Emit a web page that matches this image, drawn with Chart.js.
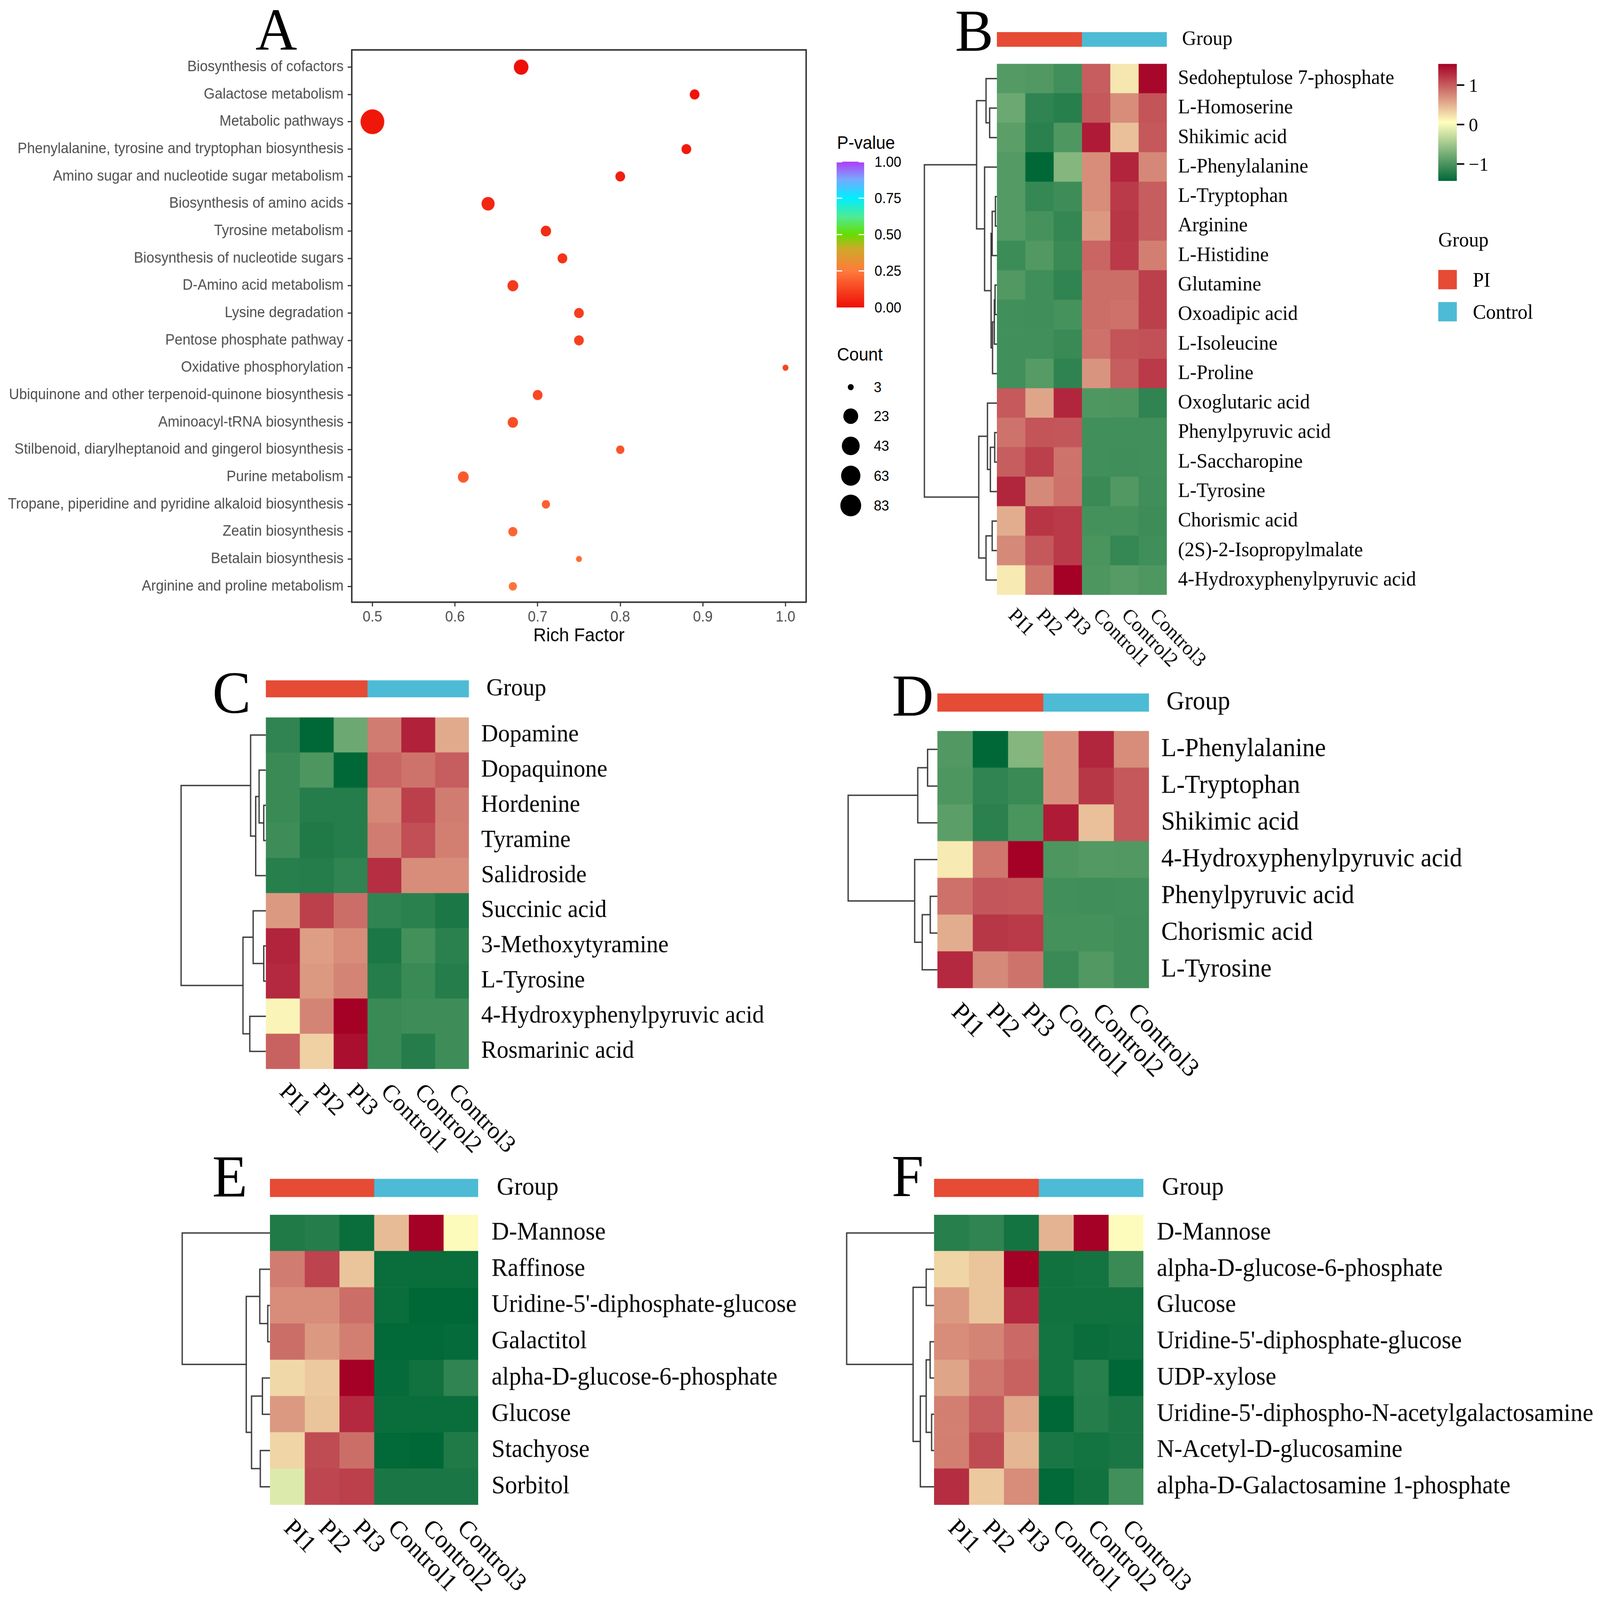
<!DOCTYPE html>
<html>
<head>
<meta charset="utf-8">
<script src="https://cdn.jsdelivr.net/npm/chart.js@4.4.0/dist/chart.umd.min.js"></script>
<style>
  html, body { margin: 0; background: #fff; overflow: hidden; }
  #fig { position: relative; width: 4303px; height: 4137px; background: #fff; overflow: hidden; transform-origin: 0 0; }
  #fig canvas { position: absolute; }
  .txt { position: absolute; white-space: nowrap; color: #000; }
  .box { position: absolute; }
</style>
</head>
<body>
<div id="fig"></div>
<script>
// ---------- Panel A: KEGG enrichment ----------
const pathways = [
  "Biosynthesis of cofactors",
  "Galactose metabolism",
  "Metabolic pathways",
  "Phenylalanine, tyrosine and tryptophan biosynthesis",
  "Amino sugar and nucleotide sugar metabolism",
  "Biosynthesis of amino acids",
  "Tyrosine metabolism",
  "Biosynthesis of nucleotide sugars",
  "D-Amino acid metabolism",
  "Lysine degradation",
  "Pentose phosphate pathway",
  "Oxidative phosphorylation",
  "Ubiquinone and other terpenoid-quinone biosynthesis",
  "Aminoacyl-tRNA biosynthesis",
  "Stilbenoid, diarylheptanoid and gingerol biosynthesis",
  "Purine metabolism",
  "Tropane, piperidine and pyridine alkaloid biosynthesis",
  "Zeatin biosynthesis",
  "Betalain biosynthesis",
  "Arginine and proline metabolism",
];
const richFactor = [0.68, 0.89, 0.50, 0.88, 0.80, 0.64, 0.71, 0.73, 0.67, 0.75,
                    0.75, 1.00, 0.70, 0.67, 0.80, 0.61, 0.71, 0.67, 0.75, 0.67];
const pValue = [0.005, 0.012, 0.02, 0.028, 0.04, 0.055, 0.07, 0.085, 0.1, 0.11,
                0.115, 0.125, 0.135, 0.145, 0.16, 0.175, 0.185, 0.2, 0.215, 0.235];
const hitCount = [21, 7, 164, 7, 7, 15, 8, 7, 9, 7, 7, 3, 7, 8, 5, 9, 5, 6, 3, 5];
const richTicks = [0.5, 0.6, 0.7, 0.8, 0.9, 1.0];
const pLegendTicks = [1, 0.75, 0.5, 0.25, 0];
const countLegend = [3, 23, 43, 63, 83];

// ---------- Heatmaps B-F ----------
const samples = ["PI1", "PI2", "PI3", "Control1", "Control2", "Control3"];
const sampleGroup = ["PI", "PI", "PI", "Control", "Control", "Control"];
const groups = ["PI", "Control"];
const heatLegendTicks = [1, 0, -1];

const rowsB = ["Sedoheptulose 7-phosphate", "L-Homoserine", "Shikimic acid", "L-Phenylalanine",
  "L-Tryptophan", "Arginine", "L-Histidine", "Glutamine", "Oxoadipic acid", "L-Isoleucine",
  "L-Proline", "Oxoglutaric acid", "Phenylpyruvic acid", "L-Saccharopine", "L-Tyrosine",
  "Chorismic acid", "(2S)-2-Isopropylmalate", "4-Hydroxyphenylpyruvic acid"];
const zB = [
  [-0.94, -0.96, -1.05, 1.0, 0.2, 1.5],
  [-0.8, -1.15, -1.2, 1.03, 0.72, 1.05],
  [-0.9, -1.18, -0.97, 1.38, 0.42, 1.03],
  [-0.94, -1.45, -0.66, 0.72, 1.33, 0.75],
  [-0.94, -1.12, -1.07, 0.72, 1.2, 1.0],
  [-0.94, -1.02, -1.13, 0.65, 1.22, 1.0],
  [-1.08, -0.96, -1.1, 0.95, 1.2, 0.8],
  [-0.96, -1.06, -1.15, 0.9, 0.9, 1.17],
  [-1.05, -1.06, -1.02, 0.9, 0.88, 1.17],
  [-1.05, -1.05, -1.1, 0.88, 1.05, 1.07],
  [-1.05, -0.93, -1.16, 0.68, 1.0, 1.2],
  [1.02, 0.58, 1.32, -0.97, -0.98, -1.15],
  [0.87, 1.05, 1.04, -1.05, -1.05, -1.05],
  [1.0, 1.17, 0.87, -1.05, -1.06, -1.05],
  [1.32, 0.74, 0.88, -1.1, -0.96, -1.06],
  [0.53, 1.23, 1.2, -1.03, -1.03, -1.07],
  [0.74, 1.03, 1.2, -1.0, -1.12, -1.06],
  [0.18, 0.85, 1.58, -0.98, -0.93, -0.97],
];
// hclust style merges: negative = row number, positive = earlier merge, then height
const mergeB = [
  [-5, -6, 0.02], [-8, -9, 0.025], [-13, -14, 0.03], [2, -10, 0.035], [4, -11, 0.06],
  [1, -7, 0.065], [-16, -17, 0.065], [6, 5, 0.08], [3, -15, 0.09], [-2, -3, 0.10],
  [-12, 9, 0.13], [-1, 10, 0.15], [7, -18, 0.15], [-4, 8, 0.17], [11, 13, 0.25],
  [12, 14, 0.28], [16, 15, 1.0],
];

const rowsC = ["Dopamine", "Dopaquinone", "Hordenine", "Tyramine", "Salidroside", "Succinic acid",
  "3-Methoxytyramine", "L-Tyrosine", "4-Hydroxyphenylpyruvic acid", "Rosmarinic acid"];
const zC = [
  [-1.15, -1.45, -0.8, 0.82, 1.35, 0.55],
  [-1.1, -0.98, -1.45, 0.95, 0.87, 1.0],
  [-1.1, -1.22, -1.22, 0.75, 1.17, 0.82],
  [-1.07, -1.25, -1.22, 0.82, 1.08, 0.8],
  [-1.2, -1.22, -1.15, 1.27, 0.72, 0.72],
  [0.65, 1.17, 0.9, -1.15, -1.18, -1.27],
  [1.33, 0.62, 0.72, -1.27, -1.04, -1.18],
  [1.3, 0.65, 0.77, -1.22, -1.1, -1.22],
  [0.12, 0.77, 1.58, -1.1, -1.07, -1.07],
  [0.97, 0.32, 1.45, -1.1, -1.22, -1.07],
];
const mergeC = [
  [-3, -4, 0.025], [-7, -8, 0.025], [-2, 1, 0.08], [3, -5, 0.12], [-6, 2, 0.15],
  [-1, 4, 0.18], [-9, -10, 0.19], [5, 7, 0.27], [6, 8, 1.0],
];

const rowsD = ["L-Phenylalanine", "L-Tryptophan", "Shikimic acid", "4-Hydroxyphenylpyruvic acid",
  "Phenylpyruvic acid", "Chorismic acid", "L-Tyrosine"];
const zD = [
  [-0.96, -1.45, -0.66, 0.7, 1.32, 0.72],
  [-0.98, -1.15, -1.1, 0.7, 1.22, 1.03],
  [-0.9, -1.18, -1.0, 1.38, 0.42, 1.03],
  [0.18, 0.85, 1.58, -0.98, -0.95, -0.96],
  [0.88, 1.04, 1.03, -1.05, -1.06, -1.05],
  [0.53, 1.22, 1.2, -1.03, -1.03, -1.06],
  [1.3, 0.74, 0.87, -1.1, -0.96, -1.06],
];
const mergeD = [
  [-5, -6, 0.08], [-1, -2, 0.11], [1, -7, 0.17], [2, -3, 0.22], [-4, 3, 0.255], [4, 5, 1.0],
];

const rowsE = ["D-Mannose", "Raffinose", "Uridine-5'-diphosphate-glucose", "Galactitol",
  "alpha-D-glucose-6-phosphate", "Glucose", "Stachyose", "Sorbitol"];
const zE = [
  [-1.25, -1.22, -1.38, 0.45, 1.58, 0.08],
  [0.82, 1.15, 0.4, -1.38, -1.38, -1.38],
  [0.72, 0.72, 0.9, -1.37, -1.43, -1.43],
  [0.9, 0.65, 0.8, -1.42, -1.42, -1.4],
  [0.28, 0.37, 1.55, -1.4, -1.33, -1.15],
  [0.65, 0.4, 1.3, -1.37, -1.37, -1.37],
  [0.3, 1.1, 0.9, -1.42, -1.45, -1.25],
  [-0.15, 1.13, 1.17, -1.28, -1.28, -1.28],
];
const mergeE = [
  [-3, -4, 0.025], [-5, -6, 0.086], [-7, -8, 0.11], [-2, 1, 0.116], [2, 3, 0.21],
  [4, 5, 0.27], [-1, 6, 1.0],
];

const rowsF = ["D-Mannose", "alpha-D-glucose-6-phosphate", "Glucose", "Uridine-5'-diphosphate-glucose",
  "UDP-xylose", "Uridine-5'-diphospho-N-acetylgalactosamine", "N-Acetyl-D-glucosamine",
  "alpha-D-Galactosamine 1-phosphate"];
const zF = [
  [-1.2, -1.15, -1.32, 0.5, 1.58, 0.07],
  [0.3, 0.4, 1.55, -1.33, -1.32, -1.1],
  [0.65, 0.4, 1.3, -1.33, -1.33, -1.33],
  [0.72, 0.77, 0.93, -1.32, -1.37, -1.35],
  [0.58, 0.85, 0.97, -1.32, -1.2, -1.45],
  [0.8, 1.0, 0.57, -1.45, -1.22, -1.28],
  [0.8, 1.1, 0.48, -1.28, -1.32, -1.28],
  [1.28, 0.37, 0.72, -1.42, -1.33, -1.05],
];
const mergeF = [
  [-6, -7, 0.028], [-4, -5, 0.045], [-2, -3, 0.09], [2, 1, 0.09], [4, -8, 0.157],
  [3, 5, 0.24], [-1, 6, 1.0],
];

// ---------- colours ----------
const pStops = [[0, "#EE0E06"], [0.25, "#FF7A3C"], [0.4, "#D0A82A"], [0.5, "#66DD00"],
  [0.62, "#4EEB92"], [0.75, "#00EEFF"], [0.88, "#78A8FF"], [1, "#B03CF5"]];
const heatMin = -1.43, heatMax = 1.54;
const heatStops = [[heatMin, "#006837"], [(heatMin + heatMax) / 2, "#FFFFBF"], [heatMax, "#A50026"]];
const groupColors = ["#E64B35", "#4DBBD5"];

const SERIF = "Liberation Serif";
const SANS = "Liberation Sans";
const FIG_W = 4303, FIG_H = 4137;
const fig = document.getElementById("fig");

// the real viewport can be smaller than the figure: stretch the figure to fill it
const sx = window.innerWidth / FIG_W, sy = window.innerHeight / FIG_H;
if (sx < 0.999 || sy < 0.999) fig.style.transform = `scale(${Math.min(sx, 1)}, ${Math.min(sy, 1)})`;

function hexRgb(h) {
  return [1, 3, 5].map((i) => parseInt(h.slice(i, i + 2), 16));
}

function ramp(stops, v) {
  if (v <= stops[0][0]) return stops[0][1];
  for (let i = 1; i < stops.length; i++) {
    if (v <= stops[i][0]) {
      const t = (v - stops[i - 1][0]) / (stops[i][0] - stops[i - 1][0]);
      const a = hexRgb(stops[i - 1][1]), b = hexRgb(stops[i][1]);
      return `rgb(${a.map((x, k) => Math.round(x + (b[k] - x) * t)).join(",")})`;
    }
  }
  return stops[stops.length - 1][1];
}

const dotRadius = (count) => 8 + 6 * Math.log(count / 3);

function addCanvas(x, y, w, h) {
  const c = document.createElement("canvas");
  c.width = w; c.height = h;
  c.style.left = x + "px"; c.style.top = y + "px";
  c.style.width = w + "px"; c.style.height = h + "px";
  fig.appendChild(c);
  return c.getContext("2d");
}

function addText(str, x, yMid, size, family, center) {
  const d = document.createElement("div");
  d.className = "txt";
  d.textContent = str;
  d.style.left = x + "px";
  d.style.top = (yMid - size / 2) + "px";
  d.style.fontSize = size + "px";
  d.style.lineHeight = size + "px";
  d.style.fontFamily = family;
  if (center) d.style.transform = "translateX(-50%)";
  fig.appendChild(d);
  return d;
}

function addBox(x, y, w, h, bg, round) {
  const d = document.createElement("div");
  d.className = "box";
  Object.assign(d.style, { left: x + "px", top: y + "px", width: w + "px", height: h + "px", background: bg });
  if (round) d.style.borderRadius = "50%";
  fig.appendChild(d);
}

const base = {
  responsive: false,
  animation: false,
  devicePixelRatio: 1,
  events: [],
  plugins: { legend: { display: false }, tooltip: { enabled: false } },
};

// ---------- Panel A chart ----------
const frame = { display: true, color: "#333333", width: 4 };
const tickMarks = { drawOnChartArea: false, drawTicks: true, tickLength: 11, color: "#333333", lineWidth: 3 };

new Chart(addCanvas(0, 0, 2200, 1700), {
  type: "scatter",
  data: {
    datasets: [{
      data: pathways.map((p, i) => ({ x: richFactor[i], y: i })),
      pointRadius: (c) => dotRadius(hitCount[c.dataIndex]),
      pointBackgroundColor: (c) => ramp(pStops, pValue[c.dataIndex]),
      pointBorderWidth: 0,
    }],
  },
  options: {
    ...base,
    layout: { padding: { top: 129, right: 18, left: 0, bottom: 0 } },
    scales: {
      x: {
        type: "linear", position: "bottom", min: 0.475, max: 1.025,
        afterBuildTicks: (s) => { s.ticks = richTicks.map((v) => ({ value: v })); },
        ticks: { callback: (v) => v.toFixed(1), color: "#4D4D4D", font: { family: SANS, size: 38 }, padding: 6, maxRotation: 0, autoSkip: false },
        grid: tickMarks,
        border: frame,
        title: { display: true, text: "Rich Factor", color: "#000", font: { family: SANS, size: 48 }, padding: { top: 0, bottom: 26 } },
        afterFit: (s) => { s.height = 143; },
      },
      x2: {
        type: "linear", position: "top", min: 0.475, max: 1.025,
        ticks: { display: false }, grid: { display: false }, border: frame,
        afterFit: (s) => { s.height = 0; },
      },
      y: {
        type: "linear", position: "left", reverse: true, min: -0.63, max: pathways.length - 0.42,
        afterBuildTicks: (s) => { s.ticks = pathways.map((p, i) => ({ value: i })); },
        ticks: { callback: (v) => pathways[v], color: "#4D4D4D", font: { family: SANS, size: 38 }, padding: 11, autoSkip: false },
        grid: tickMarks,
        border: frame,
        afterFit: (s) => { s.width = 946; },
      },
      y2: {
        type: "linear", position: "right", min: -0.63, max: pathways.length - 0.42,
        ticks: { display: false }, grid: { display: false }, border: frame,
        afterFit: (s) => { s.width = 0; },
      },
    },
  },
});

// Panel A legends
const pBar = { x: 2250, top: 418, w: 74, h: 377 };
addText("P-value", 2251, 369, 46, SANS);
addBox(pBar.x, pBar.top, pBar.w, pBar.h,
  `linear-gradient(to top, ${pStops.map(([p, c]) => `${c} ${p * 100}%`).join(", ")})`);
pLegendTicks.forEach((p) => {
  const y = pBar.top + (1 - p) * pBar.h;
  if (p > 0) {
    addBox(pBar.x, y - 1.5, 15, 3, "#fff");
    addBox(pBar.x + pBar.w - 15, y - 1.5, 15, 3, "#fff");
  }
  addText(p.toFixed(2), 2352, y, 37, SANS);
});
addText("Count", 2251, 916, 46, SANS);
const countY = [1001, 1076, 1153, 1230, 1307];
countLegend.forEach((c, i) => {
  const r = dotRadius(c);
  addBox(2288 - r, countY[i] - r, 2 * r, 2 * r, "#000", true);
  addText(String(c), 2350, countY[i], 37, SANS);
});

// ---------- Heatmap panels ----------
function dendroLines(merges) {
  const pos = [];
  const node = (id) => (id < 0 ? { y: -id - 1, h: 0 } : pos[id - 1]);
  return merges.map(([a, b, h]) => {
    const A = node(a), B = node(b);
    pos.push({ y: (A.y + B.y) / 2, h });
    return [{ x: A.h, y: A.y }, { x: h, y: A.y }, { x: h, y: B.y }, { x: B.h, y: B.y }];
  });
}

const colLabels = {
  id: "colLabels",
  afterDraw(chart, args, opts) {
    const { ctx, chartArea, scales } = chart;
    ctx.save();
    ctx.font = `${opts.size}px "${SERIF}"`;
    ctx.fillStyle = "#000";
    ctx.textAlign = "left";
    ctx.textBaseline = "middle";
    samples.forEach((s, j) => {
      ctx.save();
      ctx.translate(scales.x.getPixelForValue(j + 0.5), chartArea.bottom + opts.gap);
      ctx.rotate(Math.PI / 4);
      ctx.fillText(s, 0, 0);
      ctx.restore();
    });
    ctx.restore();
  },
};

const PAD = 110;

function drawHeatPanel(p) {
  const heatW = p.right - p.left;
  const heatH = p.bottom - p.top;
  const canvasW = p.canvasRight - p.left;
  const rowAxis = (gap) => ({
    stacked: true, position: "right",
    grid: { display: false, drawTicks: false }, border: { display: false },
    ticks: { autoSkip: false, padding: gap, color: "#000", font: { family: SERIF, size: p.font } },
    afterFit: (s) => { s.width = canvasW - heatW; },
  });

  // heatmap cells: one stacked unit per sample, coloured by z-score
  new Chart(addCanvas(p.left, p.top - PAD, canvasW, heatH + PAD + 400), {
    type: "bar",
    data: {
      labels: p.rows,
      datasets: samples.map((s, j) => ({
        label: s,
        data: p.rows.map(() => 1),
        backgroundColor: (c) => ramp(heatStops, p.z[c.dataIndex][j]),
        borderWidth: 0,
        categoryPercentage: 1,
        barPercentage: 1,
      })),
    },
    options: {
      ...base,
      indexAxis: "y",
      layout: { padding: { top: PAD, bottom: 400, left: 0, right: 0 } },
      plugins: { ...base.plugins, colLabels: { size: p.font, gap: Math.round(p.font * 0.4) + 25 } },
      scales: {
        x: { stacked: true, min: 0, max: samples.length, display: false },
        y: rowAxis(p.gap),
      },
    },
    plugins: [colLabels],
  });

  // group annotation bar
  const barH = p.barBottom - p.barTop;
  new Chart(addCanvas(p.left, p.barTop - PAD, canvasW, barH + 2 * PAD), {
    type: "bar",
    data: {
      labels: ["Group"],
      datasets: groups.map((g, k) => ({
        label: g,
        data: [sampleGroup.filter((s) => s === g).length],
        backgroundColor: groupColors[k],
        borderWidth: 0,
        categoryPercentage: 1,
        barPercentage: 1,
      })),
    },
    options: {
      ...base,
      indexAxis: "y",
      layout: { padding: { top: PAD, bottom: PAD, left: 0, right: 0 } },
      scales: {
        x: { stacked: true, min: 0, max: samples.length, display: false },
        y: rowAxis(p.groupGap),
      },
    },
  });

  // row dendrogram
  const lines = dendroLines(p.merges);
  const maxH = Math.max(...p.merges.map((m) => m[2]));
  new Chart(addCanvas(p.dendroLeft - 6, p.top, p.left - p.dendroLeft + 6, heatH), {
    type: "scatter",
    data: {
      datasets: lines.map((pts) => ({
        data: pts, showLine: true, pointRadius: 0, borderColor: "#3a3a3a", borderWidth: 3.5, clip: false,
      })),
    },
    options: {
      ...base,
      layout: { padding: { left: 6, right: 0, top: 0, bottom: 0 } },
      scales: {
        x: { type: "linear", min: 0, max: maxH, reverse: true, display: false },
        y: { type: "linear", min: -0.5, max: p.rows.length - 0.5, reverse: true, display: false },
      },
    },
  });
}

const panels = [
  { rows: rowsB, z: zB, merges: mergeB, left: 2681, right: 3138, top: 165, bottom: 1538,
    barTop: 83, barBottom: 121, dendroLeft: 2486, font: 53, gap: 30, groupGap: 41, canvasRight: 4303 },
  { rows: rowsC, z: zC, merges: mergeC, left: 715, right: 1261, top: 1855, bottom: 2764,
    barTop: 1759, barBottom: 1803, dendroLeft: 487, font: 63, gap: 33, groupGap: 47, canvasRight: 2250 },
  { rows: rowsD, z: zD, merges: mergeD, left: 2521, right: 3090, top: 1890, bottom: 2555,
    barTop: 1793, barBottom: 1840, dendroLeft: 2281, font: 67, gap: 33, groupGap: 47, canvasRight: 4303 },
  { rows: rowsE, z: zE, merges: mergeE, left: 726, right: 1286, top: 3141, bottom: 3891,
    barTop: 3048, barBottom: 3095, dendroLeft: 490, font: 65, gap: 36, groupGap: 50, canvasRight: 2250 },
  { rows: rowsF, z: zF, merges: mergeF, left: 2512, right: 3075, top: 3141, bottom: 3891,
    barTop: 3048, barBottom: 3095, dendroLeft: 2277, font: 65, gap: 36, groupGap: 50, canvasRight: 4303 },
];
panels.forEach(drawHeatPanel);

// Panel B legends (z-score colour key and group key)
const zBar = { x: 3868, top: 165, w: 50, h: 303 };
addBox(zBar.x, zBar.top, zBar.w, zBar.h, "linear-gradient(to bottom, #A50026 0%, #FFFFBF 50%, #006837 100%)");
heatLegendTicks.forEach((v) => {
  const y = zBar.top + (heatMax - v) / (heatMax - heatMin) * zBar.h;
  addBox(zBar.x + zBar.w, y - 2, 20, 4, "#000");
  addText(v < 0 ? "\u2212" + Math.abs(v) : String(v), 3950, y, 50, SERIF);
});
addText("Group", 3868, 619, 53, SERIF);
groups.forEach((g, k) => {
  const y = [723, 806][k];
  addBox(3868, y - 25, 50, 50, groupColors[k]);
  addText(g, 3961, y, 53, SERIF);
});

// panel letters
[["A", 743, 76], ["B", 2620, 79], ["C", 623, 1791], ["D", 2455, 1798], ["E", 618, 3042], ["F", 2441, 3041]]
  .forEach(([t, x, y]) => addText(t, x, y, 155, SERIF, true));
</script>
</body>
</html>
